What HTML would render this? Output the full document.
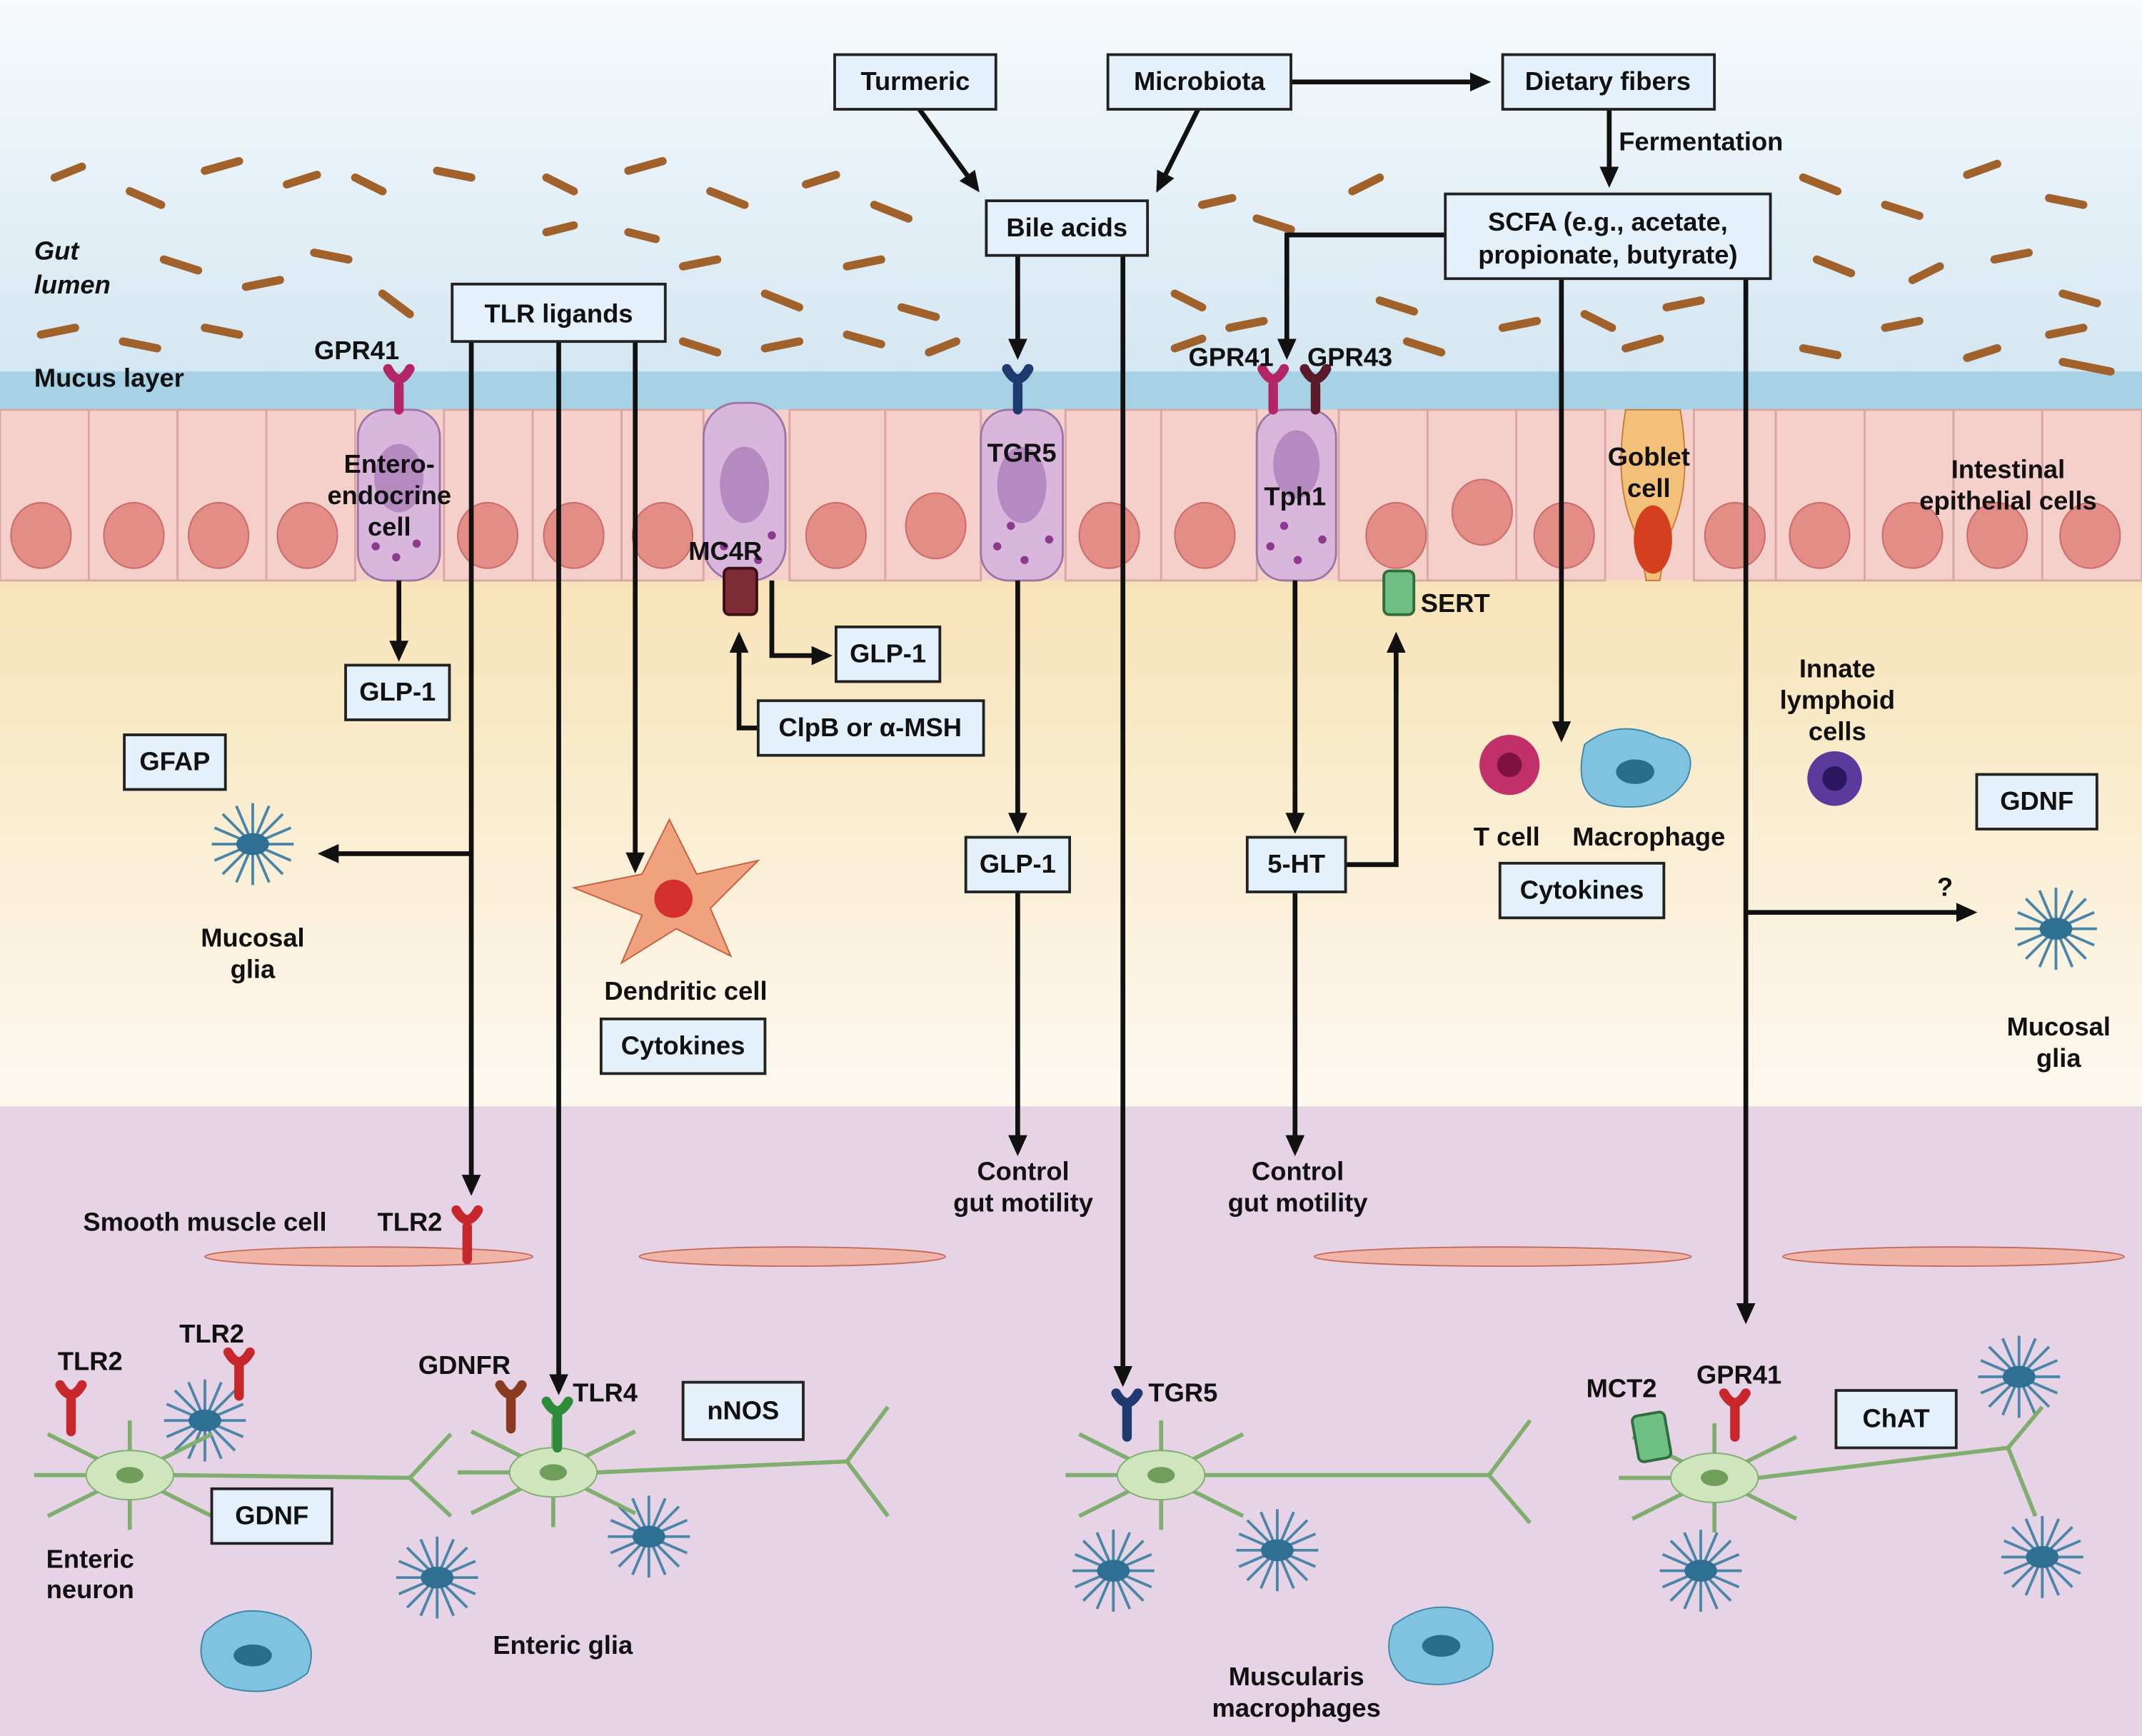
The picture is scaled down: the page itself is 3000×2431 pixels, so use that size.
<!DOCTYPE html>
<html><head><meta charset="utf-8"><style>
html,body{margin:0;padding:0;background:#fff}
svg{display:block}
text{font-family:"Liberation Sans",Arial,sans-serif;font-weight:bold;font-size:19px;fill:#111}
.b{fill:#e4f1fa;stroke:#222;stroke-width:2}
.a{stroke:#111;stroke-width:3.5;fill:none}
.bac{stroke:#a0622a;stroke-width:6;stroke-linecap:round}
.cell{fill:#f5cfca;stroke:#d9a6a6;stroke-width:1.5}
.nuc{fill:#e48c86;stroke:#c96b68;stroke-width:1}
.pc{fill:#d9b7dd;stroke:#9d75a5;stroke-width:1.5}
.gl line{stroke:#4b86a8;stroke-width:2}
.nr line,.nr path{stroke:#7fae6e;stroke-width:3;fill:none}
</style></head><body>
<svg width="3000" height="2431" viewBox="0 0 1568 1271" preserveAspectRatio="none" xmlns="http://www.w3.org/2000/svg">
<defs>
<linearGradient id="lum" x1="0" y1="0" x2="0" y2="1"><stop offset="0" stop-color="#f7fbfd"/><stop offset="1" stop-color="#d3e6f1"/></linearGradient>
<linearGradient id="lp" x1="0" y1="0" x2="0" y2="1"><stop offset="0" stop-color="#f7e3b7"/><stop offset="1" stop-color="#fdf9f1"/></linearGradient>
<marker id="m" markerWidth="4.4" markerHeight="4" refX="3.4" refY="2" orient="auto" markerUnits="strokeWidth"><path d="M0,0 L4.4,2 L0,4 z" fill="#111"/></marker>
<g id="glia" class="gl"><line x1="-30" y1="0" x2="30" y2="0"/><line x1="0" y1="-30" x2="0" y2="30"/><line x1="-22" y1="-22" x2="22" y2="22"/><line x1="-22" y1="22" x2="22" y2="-22"/><line x1="-28" y1="-12" x2="28" y2="12"/><line x1="-12" y1="-28" x2="12" y2="28"/><line x1="-28" y1="12" x2="28" y2="-12"/><line x1="12" y1="-28" x2="-12" y2="28"/><ellipse rx="12" ry="8" fill="#2f6f94"/></g>
<g id="neur" class="nr"><line x1="-60" y1="-30" x2="60" y2="30"/><line x1="-60" y1="30" x2="60" y2="-30"/><line x1="0" y1="-40" x2="0" y2="40"/><line x1="-70" y1="0" x2="-20" y2="0"/><ellipse rx="32" ry="18" fill="#cfe5be" stroke="#7fae6e"/><ellipse rx="10" ry="6" fill="#6f9f5a" stroke="none"/></g>
</defs>
<rect width="1568" height="280" fill="url(#lum)"/>
<rect y="272" width="1568" height="30" fill="#a7d2e5"/>
<rect y="300" width="1568" height="125" fill="#f5cfca"/>
<rect y="425" width="1568" height="386" fill="url(#lp)"/>
<rect y="810" width="1568" height="461" fill="#e6d4e6"/>
<g>
<rect class="cell" x="0" y="300" width="65" height="125"/><rect class="cell" x="65" y="300" width="65" height="125"/><rect class="cell" x="130" y="300" width="65" height="125"/><rect class="cell" x="195" y="300" width="65" height="125"/><rect class="cell" x="325" y="300" width="65" height="125"/><rect class="cell" x="390" y="300" width="65" height="125"/><rect class="cell" x="455" y="300" width="60" height="125"/><rect class="cell" x="578" y="300" width="70" height="125"/><rect class="cell" x="648" y="300" width="70" height="125"/><rect class="cell" x="780" y="300" width="70" height="125"/><rect class="cell" x="850" y="300" width="70" height="125"/><rect class="cell" x="980" y="300" width="65" height="125"/><rect class="cell" x="1045" y="300" width="65" height="125"/><rect class="cell" x="1110" y="300" width="65" height="125"/><rect class="cell" x="1240" y="300" width="60" height="125"/><rect class="cell" x="1300" y="300" width="65" height="125"/><rect class="cell" x="1365" y="300" width="65" height="125"/><rect class="cell" x="1430" y="300" width="65" height="125"/><rect class="cell" x="1495" y="300" width="73" height="125"/>
<ellipse class="nuc" cx="30" cy="392" rx="22" ry="24"/><ellipse class="nuc" cx="98" cy="392" rx="22" ry="24"/><ellipse class="nuc" cx="160" cy="392" rx="22" ry="24"/><ellipse class="nuc" cx="225" cy="392" rx="22" ry="24"/><ellipse class="nuc" cx="357" cy="392" rx="22" ry="24"/><ellipse class="nuc" cx="420" cy="392" rx="22" ry="24"/><ellipse class="nuc" cx="485" cy="392" rx="22" ry="24"/><ellipse class="nuc" cx="612" cy="392" rx="22" ry="24"/><ellipse class="nuc" cx="685" cy="385" rx="22" ry="24"/><ellipse class="nuc" cx="812" cy="392" rx="22" ry="24"/><ellipse class="nuc" cx="882" cy="392" rx="22" ry="24"/><ellipse class="nuc" cx="1022" cy="392" rx="22" ry="24"/><ellipse class="nuc" cx="1085" cy="375" rx="22" ry="24"/><ellipse class="nuc" cx="1145" cy="392" rx="22" ry="24"/><ellipse class="nuc" cx="1270" cy="392" rx="22" ry="24"/><ellipse class="nuc" cx="1332" cy="392" rx="22" ry="24"/><ellipse class="nuc" cx="1400" cy="392" rx="22" ry="24"/><ellipse class="nuc" cx="1462" cy="392" rx="22" ry="24"/><ellipse class="nuc" cx="1530" cy="392" rx="22" ry="24"/>
</g>
<rect class="pc" x="262" y="300" width="60" height="125" rx="20"/><ellipse cx="292" cy="350" rx="18" ry="25" fill="#b48ac0"/>
<rect class="pc" x="515" y="295" width="60" height="130" rx="25"/><ellipse cx="545" cy="355" rx="18" ry="28" fill="#b48ac0"/>
<rect class="pc" x="718" y="300" width="60" height="125" rx="20"/><ellipse cx="748" cy="355" rx="18" ry="28" fill="#b48ac0"/>
<rect class="pc" x="920" y="300" width="58" height="125" rx="20"/><ellipse cx="949" cy="340" rx="17" ry="25" fill="#b48ac0"/>
<g fill="#8c3a8c"><circle cx="275" cy="400" r="3"/><circle cx="290" cy="408" r="3"/><circle cx="305" cy="398" r="3"/><circle cx="530" cy="400" r="3"/><circle cx="555" cy="410" r="3"/><circle cx="565" cy="392" r="3"/><circle cx="730" cy="400" r="3"/><circle cx="750" cy="410" r="3"/><circle cx="768" cy="395" r="3"/><circle cx="930" cy="400" r="3"/><circle cx="950" cy="410" r="3"/><circle cx="968" cy="395" r="3"/><circle cx="740" cy="385" r="3"/><circle cx="940" cy="385" r="3"/></g>
<path d="M1190,300 Q1180,360 1200,395 L1205,425 L1215,425 L1220,395 Q1240,360 1230,300 Z" fill="#f3c07a" stroke="#c77b3a"/>
<ellipse cx="1210" cy="395" rx="14" ry="25" fill="#d4401f"/>
<g class="bac">
<line x1="40" y1="130" x2="60" y2="122"/><line x1="95" y1="140" x2="118" y2="150"/><line x1="150" y1="125" x2="175" y2="118"/><line x1="210" y1="135" x2="232" y2="128"/><line x1="260" y1="130" x2="280" y2="140"/><line x1="320" y1="125" x2="345" y2="130"/><line x1="400" y1="130" x2="420" y2="140"/><line x1="460" y1="125" x2="485" y2="118"/><line x1="520" y1="140" x2="545" y2="150"/><line x1="590" y1="135" x2="612" y2="128"/><line x1="640" y1="150" x2="665" y2="160"/><line x1="880" y1="150" x2="902" y2="145"/><line x1="920" y1="160" x2="945" y2="168"/><line x1="990" y1="140" x2="1010" y2="130"/><line x1="1320" y1="130" x2="1345" y2="140"/><line x1="1380" y1="150" x2="1405" y2="158"/><line x1="1440" y1="128" x2="1462" y2="120"/><line x1="1500" y1="145" x2="1525" y2="150"/>
<line x1="120" y1="190" x2="145" y2="198"/><line x1="180" y1="210" x2="205" y2="205"/><line x1="230" y1="185" x2="255" y2="190"/><line x1="280" y1="215" x2="300" y2="230"/><line x1="500" y1="195" x2="525" y2="190"/><line x1="560" y1="215" x2="585" y2="225"/><line x1="620" y1="195" x2="645" y2="190"/><line x1="660" y1="225" x2="685" y2="232"/><line x1="860" y1="215" x2="880" y2="225"/><line x1="900" y1="240" x2="925" y2="235"/><line x1="1010" y1="220" x2="1035" y2="228"/><line x1="1330" y1="190" x2="1355" y2="200"/><line x1="1400" y1="205" x2="1420" y2="195"/><line x1="1460" y1="190" x2="1485" y2="185"/><line x1="1510" y1="215" x2="1535" y2="222"/>
<line x1="30" y1="245" x2="55" y2="240"/><line x1="90" y1="250" x2="115" y2="255"/><line x1="150" y1="240" x2="175" y2="245"/><line x1="500" y1="250" x2="525" y2="258"/><line x1="560" y1="255" x2="585" y2="250"/><line x1="620" y1="245" x2="645" y2="252"/><line x1="680" y1="258" x2="700" y2="250"/><line x1="860" y1="255" x2="880" y2="248"/><line x1="1030" y1="250" x2="1055" y2="258"/><line x1="1100" y1="240" x2="1125" y2="235"/><line x1="1190" y1="255" x2="1215" y2="248"/><line x1="1320" y1="255" x2="1345" y2="260"/><line x1="1380" y1="240" x2="1405" y2="235"/><line x1="1440" y1="262" x2="1462" y2="255"/><line x1="1510" y1="265" x2="1545" y2="272"/><line x1="1500" y1="245" x2="1525" y2="240"/>
<line x1="400" y1="170" x2="420" y2="165"/><line x1="460" y1="170" x2="480" y2="175"/><line x1="1220" y1="225" x2="1245" y2="220"/><line x1="1160" y1="230" x2="1180" y2="240"/>
</g>
<g fill="#f1b5a8" stroke="#c46b5f"><ellipse cx="270" cy="920" rx="120" ry="7"/><ellipse cx="580" cy="920" rx="112" ry="7"/><ellipse cx="1100" cy="920" rx="138" ry="7"/><ellipse cx="1430" cy="920" rx="125" ry="7"/></g>
<circle cx="1105" cy="560" r="22" fill="#c2306a"/><circle cx="1105" cy="560" r="9" fill="#7d1240"/>
<path d="M1160,545 Q1185,525 1215,540 Q1245,545 1235,570 Q1220,595 1180,590 Q1150,585 1160,545 Z" fill="#7fc3e0" stroke="#3d87a8"/><ellipse cx="1197" cy="565" rx="14" ry="9" fill="#2d6d8c"/>
<circle cx="1343" cy="570" r="20" fill="#5a3a9a"/><circle cx="1343" cy="570" r="9" fill="#2b1660"/>
<path d="M420,650 L470,640 L490,600 L510,640 L555,630 L520,665 L535,700 L495,680 L455,705 L470,670 Z" fill="#f0a27f" stroke="#c2603f"/><circle cx="493" cy="658" r="14" fill="#d32f2f"/>
<path d="M150,1195 Q175,1170 210,1185 Q235,1200 225,1225 Q200,1245 165,1235 Q140,1220 150,1195 Z" fill="#7fc3e0" stroke="#3d87a8"/><ellipse cx="185" cy="1212" rx="14" ry="8" fill="#2d6d8c"/>
<path d="M1020,1190 Q1045,1170 1075,1180 Q1100,1195 1090,1220 Q1065,1240 1030,1230 Q1010,1215 1020,1190 Z" fill="#7fc3e0" stroke="#3d87a8"/><ellipse cx="1055" cy="1205" rx="14" ry="8" fill="#2d6d8c"/>
<use href="#glia" x="185" y="618"/><use href="#glia" x="1505" y="680"/><use href="#glia" x="150" y="1040"/><use href="#glia" x="320" y="1155"/><use href="#glia" x="475" y="1125"/><use href="#glia" x="815" y="1150"/><use href="#glia" x="935" y="1135"/><use href="#glia" x="1245" y="1150"/><use href="#glia" x="1478" y="1008"/><use href="#glia" x="1495" y="1140"/>
<use href="#neur" x="95" y="1080"/><line x1="127" y1="1080" x2="300" y2="1082" stroke="#7fae6e" stroke-width="3"/><line x1="300" y1="1082" x2="330" y2="1050" stroke="#7fae6e" stroke-width="3"/><line x1="300" y1="1082" x2="330" y2="1110" stroke="#7fae6e" stroke-width="3"/>
<use href="#neur" x="405" y="1078"/><line x1="437" y1="1078" x2="620" y2="1070" stroke="#7fae6e" stroke-width="3"/><line x1="620" y1="1070" x2="650" y2="1030" stroke="#7fae6e" stroke-width="3"/><line x1="620" y1="1070" x2="650" y2="1110" stroke="#7fae6e" stroke-width="3"/>
<use href="#neur" x="850" y="1080"/><line x1="882" y1="1080" x2="1090" y2="1080" stroke="#7fae6e" stroke-width="3"/><line x1="1090" y1="1080" x2="1120" y2="1040" stroke="#7fae6e" stroke-width="3"/><line x1="1090" y1="1080" x2="1120" y2="1115" stroke="#7fae6e" stroke-width="3"/>
<use href="#neur" x="1255" y="1082"/><line x1="1287" y1="1082" x2="1470" y2="1060" stroke="#7fae6e" stroke-width="3"/><line x1="1470" y1="1060" x2="1495" y2="1030" stroke="#7fae6e" stroke-width="3"/><line x1="1470" y1="1060" x2="1490" y2="1110" stroke="#7fae6e" stroke-width="3"/>
<g stroke-width="7" fill="none" stroke-linecap="round">
<path d="M292,300 V282 M284,270 Q292,285 300,270" stroke="#b32567"/>
<path d="M745,300 V282 M737,270 Q745,285 753,270" stroke="#1f3a6e"/>
<path d="M932,300 V282 M924,270 Q932,285 940,270" stroke="#b32567"/>
<path d="M963,300 V282 M955,270 Q963,285 971,270" stroke="#5a1a2a"/>
<path d="M342,922 V898 M334,886 Q342,900 350,886" stroke="#c7262b"/>
<path d="M52,1048 V1025 M44,1014 Q52,1028 60,1014" stroke="#c7262b"/>
<path d="M175,1022 V1000 M167,990 Q175,1004 183,990" stroke="#c7262b"/>
<path d="M374,1046 V1024 M366,1014 Q374,1028 382,1014" stroke="#8a3a1f"/>
<path d="M408,1060 V1036 M400,1026 Q408,1040 416,1026" stroke="#2f8a3a"/>
<path d="M825,1052 V1030 M817,1020 Q825,1034 833,1020" stroke="#1f3a6e"/>
<path d="M1270,1052 V1030 M1262,1020 Q1270,1034 1278,1020" stroke="#c7262b"/>
</g>
<rect x="530" y="416" width="24" height="34" rx="4" fill="#7d2b35" stroke="#3a0f14" stroke-width="2"/>
<rect x="1013" y="418" width="22" height="32" rx="4" fill="#6fbf85" stroke="#2f6d3f" stroke-width="2"/>
<rect x="1197" y="1035" width="24" height="34" rx="4" fill="#6fbf85" stroke="#2f6d3f" stroke-width="2" transform="rotate(-10 1209 1052)"/>
<g class="a">
<line x1="945" y1="60" x2="1088" y2="60" marker-end="url(#m)"/>
<line x1="1178" y1="80" x2="1178" y2="134" marker-end="url(#m)"/>
<line x1="673" y1="80" x2="715" y2="138" marker-end="url(#m)"/>
<line x1="877" y1="80" x2="848" y2="138" marker-end="url(#m)"/>
<line x1="745" y1="187" x2="745" y2="260" marker-end="url(#m)"/>
<line x1="822" y1="187" x2="822" y2="1012" marker-end="url(#m)"/>
<polyline points="1058,172 942,172 942,260" marker-end="url(#m)"/>
<line x1="1143" y1="204" x2="1143" y2="540" marker-end="url(#m)"/>
<line x1="1278" y1="204" x2="1278" y2="966" marker-end="url(#m)"/>
<line x1="1278" y1="668" x2="1444" y2="668" marker-end="url(#m)"/>
<line x1="345" y1="250" x2="345" y2="872" marker-end="url(#m)"/>
<line x1="345" y1="625" x2="236" y2="625" marker-end="url(#m)"/>
<line x1="409" y1="250" x2="409" y2="1018" marker-end="url(#m)"/>
<line x1="465" y1="250" x2="465" y2="636" marker-end="url(#m)"/>
<line x1="292" y1="425" x2="292" y2="481" marker-end="url(#m)"/>
<polyline points="565,425 565,480 606,480" marker-end="url(#m)"/>
<polyline points="555,533 541,533 541,466" marker-end="url(#m)"/>
<line x1="745" y1="425" x2="745" y2="607" marker-end="url(#m)"/>
<line x1="745" y1="653" x2="745" y2="843" marker-end="url(#m)"/>
<line x1="948" y1="425" x2="948" y2="607" marker-end="url(#m)"/>
<line x1="948" y1="653" x2="948" y2="843" marker-end="url(#m)"/>
<polyline points="985,633 1022,633 1022,466" marker-end="url(#m)"/>
</g>
<rect class="b" x="611" y="40" width="118" height="40"/><text x="670" y="66" text-anchor="middle">Turmeric</text>
<rect class="b" x="811" y="40" width="134" height="40"/><text x="878" y="66" text-anchor="middle">Microbiota</text>
<rect class="b" x="1100" y="40" width="155" height="40"/><text x="1177" y="66" text-anchor="middle">Dietary fibers</text>
<rect class="b" x="722" y="147" width="118" height="40"/><text x="781" y="173" text-anchor="middle">Bile acids</text>
<rect class="b" x="1058" y="142" width="238" height="62"/><text x="1177" y="169" text-anchor="middle">SCFA (e.g., acetate,</text><text x="1177" y="193" text-anchor="middle">propionate, butyrate)</text>
<rect class="b" x="331" y="208" width="156" height="42"/><text x="409" y="236" text-anchor="middle">TLR ligands</text>
<rect class="b" x="253" y="487" width="76" height="40"/><text x="291" y="513" text-anchor="middle">GLP-1</text>
<rect class="b" x="612" y="459" width="76" height="40"/><text x="650" y="485" text-anchor="middle">GLP-1</text>
<rect class="b" x="555" y="513" width="165" height="40"/><text x="637" y="539" text-anchor="middle">ClpB or α-MSH</text>
<rect class="b" x="91" y="538" width="74" height="40"/><text x="128" y="564" text-anchor="middle">GFAP</text>
<rect class="b" x="707" y="613" width="76" height="40"/><text x="745" y="639" text-anchor="middle">GLP-1</text>
<rect class="b" x="913" y="613" width="72" height="40"/><text x="949" y="639" text-anchor="middle">5-HT</text>
<rect class="b" x="1098" y="632" width="120" height="40"/><text x="1158" y="658" text-anchor="middle">Cytokines</text>
<rect class="b" x="1447" y="567" width="88" height="40"/><text x="1491" y="593" text-anchor="middle">GDNF</text>
<rect class="b" x="440" y="746" width="120" height="40"/><text x="500" y="772" text-anchor="middle">Cytokines</text>
<rect class="b" x="500" y="1012" width="88" height="42"/><text x="544" y="1039" text-anchor="middle">nNOS</text>
<rect class="b" x="155" y="1090" width="88" height="40"/><text x="199" y="1116" text-anchor="middle">GDNF</text>
<rect class="b" x="1344" y="1018" width="88" height="42"/><text x="1388" y="1045" text-anchor="middle">ChAT</text>
<text x="1185" y="110">Fermentation</text>
<text x="25" y="190" font-style="italic" font-size="21">Gut</text><text x="25" y="215" font-style="italic" font-size="21">lumen</text>
<text x="25" y="283">Mucus layer</text>
<text x="230" y="263">GPR41</text>
<text x="285" y="346" text-anchor="middle">Entero-</text><text x="285" y="369" text-anchor="middle">endocrine</text><text x="285" y="392" text-anchor="middle">cell</text>
<text x="504" y="410">MC4R</text>
<text x="748" y="338" text-anchor="middle">TGR5</text>
<text x="870" y="268">GPR41</text><text x="957" y="268">GPR43</text>
<text x="948" y="370" text-anchor="middle">Tph1</text>
<text x="1040" y="448">SERT</text>
<text x="1207" y="341" text-anchor="middle">Goblet</text><text x="1207" y="364" text-anchor="middle">cell</text>
<text x="1470" y="350" text-anchor="middle">Intestinal</text><text x="1470" y="373" text-anchor="middle">epithelial cells</text>
<text x="1345" y="496" text-anchor="middle">Innate</text><text x="1345" y="519" text-anchor="middle">lymphoid</text><text x="1345" y="542" text-anchor="middle">cells</text>
<text x="1103" y="619" text-anchor="middle">T cell</text><text x="1207" y="619" text-anchor="middle">Macrophage</text>
<text x="185" y="693" text-anchor="middle">Mucosal</text><text x="185" y="716" text-anchor="middle">glia</text>
<text x="1507" y="758" text-anchor="middle">Mucosal</text><text x="1507" y="781" text-anchor="middle">glia</text>
<text x="1418" y="656" font-size="24">?</text>
<text x="502" y="732" text-anchor="middle">Dendritic cell</text>
<text x="749" y="864" text-anchor="middle">Control</text><text x="749" y="887" text-anchor="middle">gut motility</text>
<text x="950" y="864" text-anchor="middle">Control</text><text x="950" y="887" text-anchor="middle">gut motility</text>
<text x="150" y="901" text-anchor="middle">Smooth muscle cell</text>
<text x="300" y="901" text-anchor="middle">TLR2</text>
<text x="66" y="1003" text-anchor="middle">TLR2</text><text x="155" y="983" text-anchor="middle">TLR2</text>
<text x="340" y="1006" text-anchor="middle">GDNFR</text><text x="443" y="1026" text-anchor="middle">TLR4</text>
<text x="866" y="1026" text-anchor="middle">TGR5</text>
<text x="1187" y="1023" text-anchor="middle">MCT2</text><text x="1273" y="1013" text-anchor="middle">GPR41</text>
<text x="66" y="1148" text-anchor="middle">Enteric</text><text x="66" y="1170" text-anchor="middle">neuron</text>
<text x="412" y="1211" text-anchor="middle">Enteric glia</text>
<text x="949" y="1234" text-anchor="middle">Muscularis</text><text x="949" y="1257" text-anchor="middle">macrophages</text>
</svg>
</body></html>
